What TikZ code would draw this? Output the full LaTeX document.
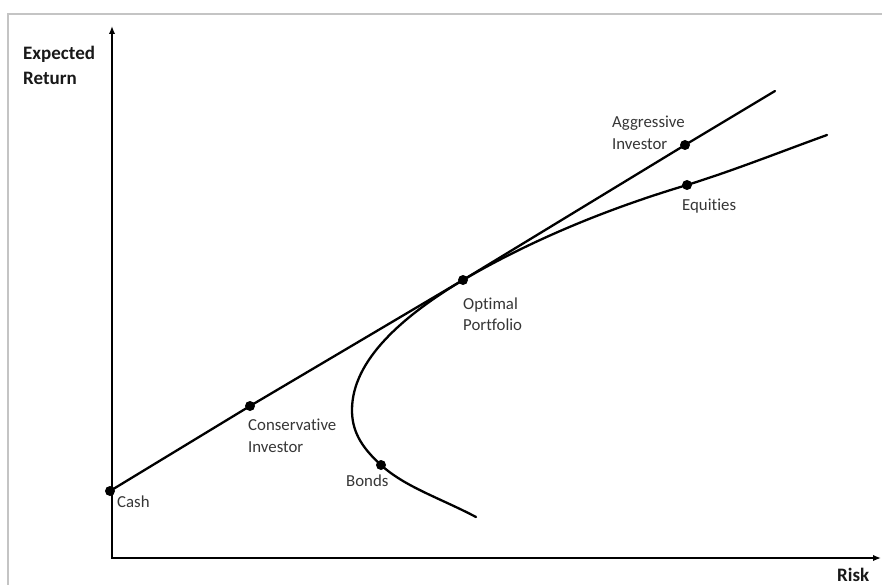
\documentclass[tikz,border=0pt]{standalone}
\usepackage{fontspec}
\setmainfont[Ligatures=NoCommon]{Carlito}
\usetikzlibrary{arrows.meta}
\definecolor{labelgray}{HTML}{363636}
\definecolor{framegray}{HTML}{C4C4C4}
\begin{document}
\begin{tikzpicture}[x=1pt,y=-1pt,
  dotnode/.style={circle,fill=black,inner sep=0pt,minimum size=10pt},
  lbl/.style={anchor=west,inner sep=0pt,text=labelgray,font=\fontsize{16.8}{21.5}\selectfont,align=left},
  axlbl/.style={anchor=west,inner sep=0pt,text=black!90,font=\fontsize{19}{23}\selectfont\bfseries,align=left},
  axisline/.style={line width=2.6pt,{Latex[length=8pt,width=6.5pt]}-{Latex[length=8pt,width=6.5pt]}},
  curveline/.style={line width=2.3pt,line cap=round}]
\useasboundingbox (0,0) rectangle (882,585);
\fill[white] (0,0) rectangle (882,585);
% frame
\draw[framegray,line width=1.5pt] (8,585) -- (8,14) -- (882,14);
% axes
\coordinate (ytop) at (112,26);
\coordinate (origin) at (112,558);
\coordinate (xend) at (881,558);
\draw[axisline] (ytop) -- (origin) -- (xend);
\node[axlbl] (ylab) at (23,54) {Expected};
\node[axlbl] (ylab2) at (23,78) {Return};
\node[axlbl] (xlab) at (837,575) {Risk};
% points
\node[dotnode] (cash) at (110,491) {};
\node[dotnode] (cons) at (250,406) {};
\node[dotnode] (opt) at (463,280) {};
\node[dotnode] (aggr) at (685,145) {};
\node[dotnode] (equi) at (687,185) {};
\node[dotnode] (bonds) at (381,465) {};
\coordinate (cmlend) at (775,91);
\coordinate (felow) at (476,517);
\coordinate (fevert) at (352,410);
\coordinate (fehigh) at (827,135);
% capital market line
\draw[curveline] (cash.center) -- (cons.center) -- (opt.center) -- (aggr.center) -- (cmlend);
% efficient frontier
\draw[curveline] (felow) .. controls (440,498) and (405,487) .. (bonds.center)
  .. controls (360,446) and (352,430) .. (fevert)
  .. controls (352,360) and (403,316) .. (opt.center)
  .. controls (540,235) and (620,205) .. (equi.center)
  .. controls (735,170) and (780,152) .. (fehigh);
% labels
\node[lbl] (cashlab) at (117,502) {Cash};
\node[lbl] (conslab) at (248,436) {Conservative\\Investor};
\node[lbl] (optlab) at (463,314) {Optimal\\Portfolio};
\node[lbl] (aggrlab) at (612,133) {Aggressive\\Investor};
\node[lbl] (equilab) at (682,206) {Equities};
\node[lbl] (bondslab) at (346,481) {Bonds};
\end{tikzpicture}
\end{document}
